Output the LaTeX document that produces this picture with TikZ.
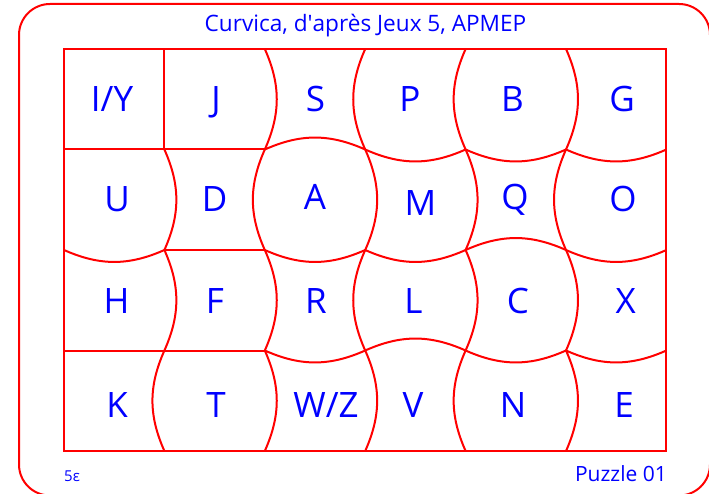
\documentclass[tikz,border=0pt]{standalone}
\usepackage{fontspec}
\setmainfont{Open Sans}
\begin{document}
\begin{tikzpicture}[x=1pt,y=1pt,edge/.style={draw=red,line width=2pt},piece/.style={text=blue,font=\fontsize{35}{35}\selectfont,anchor=base,inner sep=0pt},note/.style={text=blue,inner sep=0pt}]
\useasboundingbox (0,0) rectangle (709,493);
\draw[red,line width=2pt,rounded corners=31pt] (19,-2.5) rectangle (710,489);
% grid corners, j counted from the top line
\foreach \i in {0,...,6} \foreach \j in {0,...,4} \coordinate (v\i\j) at (64+\i*100.4,444-\j*100.5);
\draw[edge] (v00) rectangle (v64);
% vertical edges of each row: bend angle, + bulges right
\foreach \j/\ea/\eb/\ec/\ed/\ee in {0/0/24/-24/-24/24,1/24/-24/24/24/-24,2/24/24/-24/24/24,3/-24/24/24/-24/24}{
  \pgfmathtruncatemacro\jj{\j+1}
  \foreach \s [count=\i] in {\ea,\eb,\ec,\ed,\ee} \draw[edge] (v\i\j) to[bend left=\s] (v\i\jj);
}
% horizontal edges of the inner lines: + bulges up
\foreach \j/\ea/\eb/\ec/\ed/\ee/\ef in {1/0/0/24/-24/-24/-24,2/-24/0/-24/-24/24/-24,3/0/0/-24/24/-24/-24}{
  \foreach \s [count=\k from 0] in {\ea,\eb,\ec,\ed,\ee,\ef}{
    \pgfmathtruncatemacro\kk{\k+1}
    \draw[edge] (v\k\j) to[bend left=\s] (v\kk\j);
  }
}
% letters, base points in picture pixels
\foreach \t/\x/\y [count=\n] in {{I/Y}/112/112,J/216/112,S/315.5/112,P/410/112,B/512.5/112,G/622/112,
  U/117/212,D/214.7/212,A/315/210,M/420.5/215.5,Q/515/210,O/623/212,
  H/116.6/313.5,F/215/313.5,R/316/313.5,L/413.5/313.5,C/518/313.5,X/625.6/313.5,
  K/117/417,T/216/417,{W/Z}/326/417,V/413/417,N/513/417,E/624/417}
  \node[piece] (c\n) at (\x,493-\y) {\t};
\node[note,font=\fontsize{22.6}{22.6}\selectfont,anchor=base] (title) at (365.5,461) {Curvica, d\textquotesingle après Jeux 5, APMEP};
\node[note,font=\fontsize{21}{21}\selectfont,anchor=base east] (num) at (667,12) {Puzzle 01};
\node[note,font=\fontsize{15}{15}\selectfont,anchor=base west] (mark) at (64,12) {5ε};
\end{tikzpicture}
\end{document}
